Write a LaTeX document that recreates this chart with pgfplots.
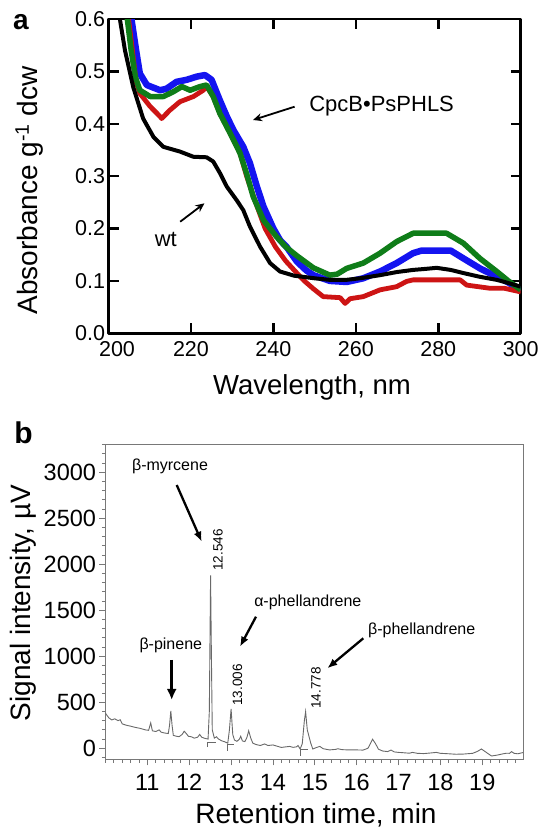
\documentclass[border=0pt]{standalone}
\usepackage{pgfplots}
\pgfplotsset{compat=1.18}
\usetikzlibrary{arrows.meta}
\usepackage{fontspec}
\setmainfont{Liberation Sans}
\newcommand{\fs}[1]{\fontsize{#1}{#1}\selectfont}
\definecolor{cblue}{RGB}{20,20,240}
\definecolor{cgreen}{RGB}{15,125,25}
\definecolor{cred}{RGB}{205,20,20}
\definecolor{cgray}{RGB}{105,105,105}
\definecolor{cframe}{RGB}{120,120,120}
\pgfplotsset{/pgf/number format/assume math mode=true}
\begin{document}
\begin{tikzpicture}[x=1pt,y=1pt]
\useasboundingbox (0,0) rectangle (544,831);
% panel a: absorbance spectra
\begin{axis}[
  at={(108.5pt,497.7pt)}, anchor=south west, scale only axis,
  width=412.2pt, height=314.3pt,
  xmin=200, xmax=300, ymin=0, ymax=0.6,
  xtick={200,220,240,260,280,300},
  xticklabels={\hspace{17pt}200,220,240,260,280,300},
  ytick={0,0.1,0.2,0.3,0.4,0.5,0.6},
  tick pos=both, tick align=inside,
  major tick length=10pt,
  tick style={line width=2.5pt, black},
  axis line style={line width=2.8pt},
  tick label style={font=\fs{21.5}},
  y tick label style={/pgf/number format/.cd, fixed, fixed zerofill, precision=1},
  x tick label style={yshift=-5pt},
  line join=round,
]
\addplot[cblue, line width=6.5pt] coordinates {
 (204.9,0.65) (205.6,0.598) (206.8,0.535) (207.6,0.496) (209.3,0.474) (212.5,0.464)
 (214.1,0.467) (216.5,0.48) (219,0.484) (221.4,0.49) (223.4,0.493) (225,0.484)
 (227,0.445) (228.7,0.414) (230.3,0.388) (232.7,0.356) (234.3,0.325) (236,0.28)
 (237.6,0.242) (240,0.2) (241.6,0.178) (243.2,0.165) (245.7,0.137) (248,0.12)
 (249.7,0.111) (253.7,0.1) (257.8,0.098) (261.8,0.105) (265.9,0.118) (269.9,0.134)
 (273.9,0.153) (276,0.158) (283,0.158) (286.1,0.143) (290.1,0.124) (294.2,0.108)
 (297,0.097) (300,0.082)
};
\addplot[cred, line width=4.8pt] coordinates {
 (204.3,0.65) (204.9,0.598) (205.8,0.54) (206.7,0.48) (207.6,0.458) (210.1,0.433)
 (212.5,0.414) (212.9,0.41) (214.9,0.426) (217.3,0.442) (220.6,0.452) (223,0.464)
 (223.8,0.471) (225.4,0.452) (227,0.42) (229.5,0.382) (231.9,0.344) (233.5,0.3)
 (235.5,0.254) (238,0.2) (240.5,0.165) (243,0.138) (245.7,0.115) (247.5,0.1)
 (249.7,0.085) (252.1,0.07) (256.2,0.068) (257.4,0.057) (258.6,0.066) (261.8,0.07)
 (265.9,0.083) (269.9,0.089) (272.3,0.099) (273.9,0.102) (285.3,0.102) (286.9,0.092)
 (292.5,0.086) (296,0.086) (300,0.079)
};
\addplot[cgreen, line width=5.5pt] coordinates {
 (204,0.65) (204.6,0.598) (205.5,0.54) (206.5,0.49) (207.6,0.464) (210.1,0.452)
 (213.3,0.452) (215.7,0.461) (217.8,0.471) (219.8,0.464) (222.2,0.471) (223.8,0.474)
 (225.4,0.452) (227,0.42) (229.5,0.382) (231.9,0.344) (233.5,0.305) (235.1,0.261)
 (237.6,0.216) (240.8,0.184) (243,0.165) (245.7,0.148) (249.7,0.125) (253.7,0.111)
 (255.5,0.113) (257.8,0.124) (261.8,0.134) (265.9,0.153) (269.9,0.175) (273.9,0.191)
 (282,0.191) (286.1,0.172) (290.1,0.143) (294.2,0.118) (297,0.1) (300,0.083)
};
\addplot[black, line width=4pt] coordinates {
 (201.8,0.65) (202.8,0.598) (204,0.54) (206,0.47) (208.4,0.41) (210.9,0.375)
 (213.3,0.356) (217.3,0.347) (220.6,0.337) (223.8,0.336) (225.4,0.328) (227.1,0.305)
 (228.7,0.28) (231.1,0.254) (232.7,0.235) (234.3,0.204) (236.8,0.165) (239.2,0.134)
 (241.6,0.118) (245,0.11) (250,0.105) (253.7,0.102) (257.7,0.102) (261,0.105)
 (265.9,0.111) (270,0.117) (273.9,0.121) (277,0.123) (279.6,0.125) (283,0.121)
 (286.1,0.115) (290,0.108) (294.2,0.102) (297,0.096) (300,0.089)
};
\end{axis}
% panel b: chromatogram
\begin{axis}[
  at={(105.5pt,71.7pt)}, anchor=south west, scale only axis,
  width=417.8pt, height=315.3pt,
  xmin=10, xmax=19.98, ymin=-120, ymax=3307,
  xtick={11,12,...,19}, ytick={0,500,...,3000},
  minor xtick={10,10.2,...,19.9},
  minor ytick={-100,0,...,3300},
  scaled ticks=false,
  tick pos=left, tick align=outside,
  major tick length=6pt, minor tick length=3.5pt,
  tick style={cframe, line width=0.8pt},
  axis line style={cframe, line width=0.9pt},
  tick label style={font=\fs{23.5}, /pgf/number format/1000 sep={}},
  x tick label style={yshift=-5pt},
]
\addplot[cgray, line width=0.9pt] coordinates {
 (10.0,380) (10.08,330) (10.15,308) (10.22,320) (10.3,300) (10.35,310) (10.4,265)
 (10.5,250) (10.6,240) (10.7,228) (10.82,217) (10.95,200) (11.03,195) (11.08,275)
 (11.12,190) (11.2,182) (11.28,200) (11.33,175) (11.42,165) (11.5,160) (11.53,250)
 (11.56,405) (11.59,250) (11.62,140) (11.7,130) (11.76,126) (11.83,150) (11.88,185)
 (11.93,160) (11.98,130) (12.05,125) (12.12,110) (12.2,120) (12.25,150) (12.3,120)
 (12.37,108) (12.45,100) (12.48,400) (12.51,1880) (12.53,1000) (12.55,200) (12.6,110)
 (12.65,125) (12.7,100) (12.78,80) (12.85,70) (12.92,55) (12.96,200) (13.0,427)
 (13.04,150) (13.08,90) (13.14,75) (13.2,100) (13.23,130) (13.27,80) (13.33,72)
 (13.38,120) (13.42,190) (13.47,110) (13.52,55) (13.6,40) (13.7,30) (13.8,47)
 (13.88,30) (14.0,36) (14.08,25) (14.2,9) (14.3,15) (14.4,20) (14.48,10) (14.56,15)
 (14.6,30) (14.65,-8) (14.7,50) (14.75,300) (14.78,398) (14.82,200) (14.86,130)
 (14.9,60) (14.95,-8) (15.05,10) (15.12,20) (15.2,-5) (15.35,-18) (15.5,-12)
 (15.55,-5) (15.65,-15) (15.8,-18) (16.0,-18) (16.15,-20) (16.27,0) (16.38,98)
 (16.45,50) (16.52,-10) (16.62,-30) (16.74,-36) (16.82,-20) (16.9,-40) (17.0,-45)
 (17.1,-48) (17.26,-54) (17.33,-45) (17.45,-55) (17.6,-58) (17.75,-52) (17.9,-45)
 (18.0,-55) (18.2,-60) (18.37,-65) (18.55,-63) (18.77,-55) (18.88,-35) (18.98,-8)
 (19.08,-40) (19.22,-84) (19.35,-75) (19.5,-60) (19.58,-54) (19.65,-55) (19.7,-37)
 (19.76,-55) (19.85,-60) (19.97,-47)
};
% integration baseline marks
\addplot[cgray, line width=0.7pt] coordinates {(12.43,11) (12.43,65) (12.64,65)};
\addplot[cgray, line width=0.7pt] coordinates {(12.91,-25) (12.91,47) (13.06,47)};
\addplot[cgray, line width=0.7pt] coordinates {(14.66,-83) (14.66,-8) (14.83,-8)};
\end{axis}
% panel a annotations
\node[font=\bfseries\fs{28}] at (21,809) {a};
\node[font=\fs{28}, rotate=90] at (29.5,640.5) {Absorbance g\textsuperscript{-1} dcw};
\node[font=\fs{27.5}, anchor=base] at (312,436) {Wavelength, nm};
\node[font=\fs{22}, anchor=base] at (381.6,719.3) {CpcB•PsPHLS};
\node[font=\fs{22}, anchor=base] at (165.8,584.3) {wt};
\draw[line width=1.8pt, -{Stealth[length=9pt,width=8pt]}] (294.6,724.3) -- (253,711);
\draw[line width=1.8pt, -{Stealth[length=9pt,width=8pt]}] (180.2,609.3) -- (204.5,627.7);
% panel b annotations
\node[font=\bfseries\fs{30}] at (23.5,398) {b};
\node[font=\fs{28}, rotate=90] at (23.4,228) {Signal intensity, µV};
\node[font=\fs{28}, anchor=base] at (316,7) {Retention time, min};
\node[font=\fs{16}, anchor=base] at (170,360) {β-myrcene};
\node[font=\fs{16}, anchor=base] at (307.8,224) {α-phellandrene};
\node[font=\fs{16}, anchor=base] at (421.7,196) {β-phellandrene};
\node[font=\fs{16}, anchor=base] at (170.8,181) {β-pinene};
\node[font=\fs{13.5}, rotate=90] at (218,281) {12.546};
\node[font=\fs{13.5}, rotate=90] at (237.5,146) {13.006};
\node[font=\fs{13.5}, rotate=90] at (316,143) {14.778};
\draw[line width=2.3pt, -{Latex[length=10pt,width=8pt]}] (176.7,346) -- (201.7,289.3);
\draw[line width=2.3pt, -{Latex[length=10pt,width=8pt]}] (256,214.3) -- (240,184.3);
\draw[line width=2.3pt, -{Latex[length=10pt,width=8pt]}] (363.3,192.7) -- (327.3,162.7);
\draw[line width=2.6pt, -{Latex[length=11pt,width=10pt]}] (171.7,171) -- (171.7,131);
\end{tikzpicture}
\end{document}
